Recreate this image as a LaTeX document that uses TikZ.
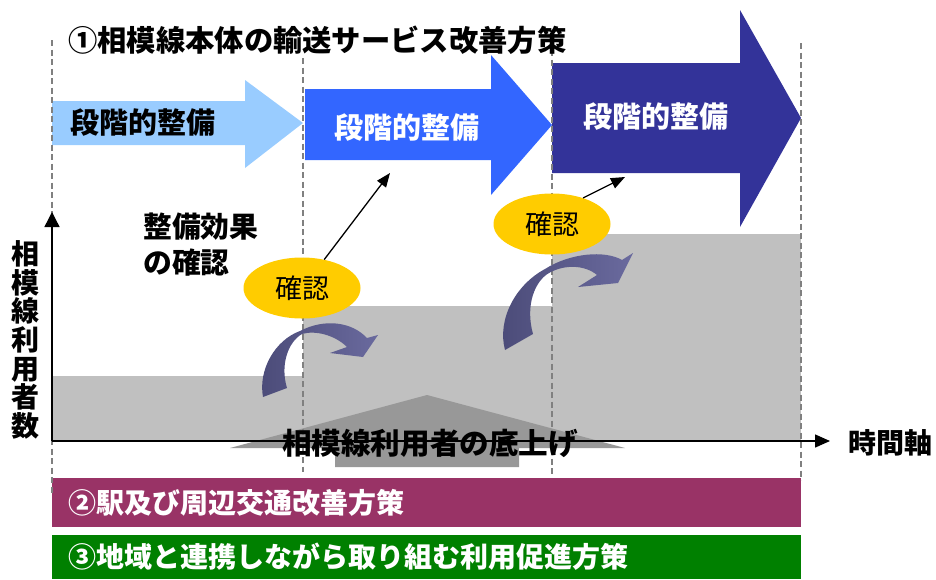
\documentclass[tikz,border=0pt]{standalone}
\usepackage{fontspec}
\setmainfont{Noto Sans CJK JP}
\usetikzlibrary{arrows.meta,shapes.geometric}
\definecolor{bleuclair}{HTML}{99CCFF}
\definecolor{bleu}{HTML}{3366FF}
\definecolor{bleufonce}{HTML}{333399}
\definecolor{jaune}{HTML}{FFCC00}
\definecolor{grisclair}{HTML}{C0C0C0}
\definecolor{grisfonce}{HTML}{989898}
\definecolor{gristrait}{HTML}{808080}
\definecolor{violet}{HTML}{993366}
\definecolor{vert}{HTML}{008000}
\definecolor{mauve}{HTML}{6A6A9E}
\definecolor{mauvefonce}{HTML}{4B4B78}

\begin{document}
\begin{tikzpicture}[x=1pt,y=-1pt]
\tikzstyle{fleche}=[-{Triangle[length=15pt,width=13pt]},line width=1.4pt]
\tikzset{texte/.style={inner sep=0pt,font=\fontsize{28}{28.6}\selectfont\bfseries,text=#1},
texte/.default={black},
grand/.style={font=\fontsize{#1}{#1}\selectfont\bfseries},
bulle/.style={ellipse,fill=jaune,minimum width=117pt,minimum height=61pt,inner sep=0pt,font=\fontsize{27}{27}\selectfont},
pointille/.style={gristrait,line width=1.3pt,dash pattern=on 6pt off 3.5pt}}
\useasboundingbox (0,0) rectangle (936,579);

\fill[grisclair] (52,376) rectangle (303,441);
\fill[grisclair] (303,306) rectangle (552,441);
\fill[grisclair] (552,234) rectangle (801,441);
\fill[grisfonce] (230,448) -- (427,395) -- (625,448) -- (519,448) -- (519,467) -- (335,467) -- (335,448) -- cycle;

\fill[violet] (52,478) rectangle (801,527);
\fill[vert] (52,535) rectangle (801,579);

\fill[bleuclair] (52,101) -- (245,101) -- (245,80) -- (303,123) -- (245,168) -- (245,145) -- (52,145) -- cycle;
\fill[bleu] (305,89) -- (491,89) -- (491,55) -- (552,125) -- (491,195) -- (491,160) -- (305,160) -- cycle;
\fill[bleufonce] (552,63) -- (740,63) -- (740,10) -- (801,118) -- (740,227) -- (740,173) -- (552,173) -- cycle;

\foreach \x/\h/\b in {52/40/495,303/58/472,552/50/477,801/43/480}
  \draw[pointille] (\x,\h) -- (\x,\b);

\shade[left color=mauvefonce,right color=mauve] (263,397) .. controls (258,370) and (275,340) .. (300,331)
  .. controls (325,318) and (352,322) .. (367,338) -- (378,335) -- (363,357) -- (330,353) -- (347,347)
  .. controls (335,335) and (315,330) .. (302,334) .. controls (288,342) and (280,365) .. (287,388) -- cycle;
\shade[left color=mauvefonce,right color=mauve] (505,350) .. controls (497,320) and (515,285) .. (545,269)
  .. controls (570,253) and (605,250) .. (622,260) -- (633,253) -- (618,283) -- (578,287) -- (597,275)
  .. controls (585,265) and (565,264) .. (549,273) .. controls (535,281) and (525,305) .. (533,334) -- cycle;

\node[bulle] (e1) at (302,288) {確認};
\node[bulle] (e2) at (552,224) {確認};
\coordinate (c1) at (390,173);
\coordinate (c2) at (625,177);
\draw[fleche,line width=1.3pt,-{Triangle[length=14pt,width=11pt]}] (e1.52) -- (c1);
\draw[fleche,line width=1.3pt,-{Triangle[length=14pt,width=11pt]}] (e2.40) -- (c2);

\coordinate (o) at (52,441);
\coordinate (ymax) at (52,212);
\coordinate (xmax) at (830,441);
\draw[fleche,-{Triangle[length=15pt,width=15pt]}] (o) -- (ymax);
\draw[fleche] (o) -- (xmax);

\node[texte,grand=29.3,anchor=west] (titre) at (68,40) {①相模線本体の輸送サービス改善方策};
\node[texte,grand=29,anchor=west] (p1) at (70,123) {段階的整備};
\node[texte=white,grand=29,anchor=west] (p2) at (334,128) {段階的整備};
\node[texte=white,grand=29,anchor=west] (p3) at (583,117) {段階的整備};
\node[texte,anchor=north west,align=left,font=\fontsize{28.8}{36}\selectfont\bfseries] (effet) at (143,213) {整備効果\\の確認};
\node[texte,align=center] (ylab) at (26,340) {相\\模\\線\\利\\用\\者\\数};
\node[texte,anchor=west] (tlab) at (848,443) {時間軸};
\node[texte,grand=29.6] (hausse) at (430,443) {相模線利用者の底上げ};
\node[texte=white,anchor=west] (m2) at (68,503) {②駅及び周辺交通改善方策};
\node[texte=white,anchor=west] (m3) at (68,557) {③地域と連携しながら取り組む利用促進方策};
\end{tikzpicture}
\end{document}
